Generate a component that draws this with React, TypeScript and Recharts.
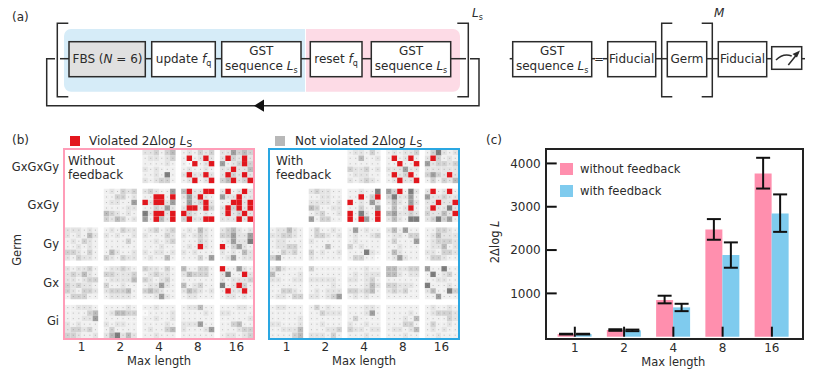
import React from "react";
import {
  Bar,
  BarChart,
  ErrorBar,
  Legend,
  ReferenceArea,
  Scatter,
  ScatterChart,
  XAxis,
  YAxis,
} from "recharts";

const FONT = "'DejaVu Sans', sans-serif";
const INK = "#2b2b2b";
const PINK = "#ff8fae";
const BLUE = "#7fcbee";

const maxLengths = ["1", "2", "4", "8", "16"];
const germs = ["GxGxGy", "GxGy", "Gy", "Gx", "Gi"];

// panel (c)
const withoutFeedback = [60, 154, 846, 2477, 3770];
const withFeedback = [60, 146, 677, 1885, 2846];
const withoutError = [[8, 8], [18, 18], [76, 100], [239, 238], [350, 360]];
const withError = [[8, 8], [18, 18], [87, 83], [293, 292], [426, 439]];
const logTicks = [1000, 2000, 3000, 4000];

// panel (b): one string per block, six rows of six cells.
// digits are grey levels, r is a violated cell, null is an empty block
const blocksWithout: (string | null)[][] = [
  [
    null,
    null,
    "223134 122123 111121 212111 112161 212331",
    "121323 1r12r2 10r12r 121121 2r22r2 12r12r",
    "225343 2r32r2 5123r3 22r224 2r32r2 34r23r",
  ],
  [
    null,
    "121323 113312 122115 111122 432121 324312",
    "232115 11rr1r r2rr25 113252 62rr2r 51r42r",
    "4r22rr 252r21 1523r2 2rr2r3 r32121 3r22rr",
    "2r12r2 522r22 11rr2r 2r3r2r 2r23r2 222r2r",
  ],
  [
    "222121 212142 121321 112121 332131 213221",
    "121322 212112 111131 111111 142112 321322",
    "123123 211132 112123 111211 212212 121141",
    "121421 212321 111321 121r21 212111 111315",
    "234212 335225 125226 r13521 212142 125122",
  ],
  [
    "212231 232421 221233 323221 321332 133311",
    "122321 332223 122224 311211 233341 122221",
    "322131 123221 321231 122521 343211 112521",
    "411331 243331 111111 412311 243212 122111",
    "r11521 2611r2 212223 612r31 1r22r1 122121",
  ],
  [
    "112221 111134 111225 212111 233231 332112",
    "111121 124433 111111 212211 131111 246242",
    "112111 011112 112112 111121 121134 112111",
    "122411 111121 111111 222511 211125 111111",
    "111221 221111 111112 113411 111233 122123",
  ],
];

const blocksWith: (string | null)[][] = [
  [
    null,
    null,
    "122131 114112 111111 322312 122211 212321",
    "121223 1r12r1 11r11r 222522 1r23r1 12r22r",
    "136212 2r3121 523323 222222 3532r2 131324",
  ],
  [
    null,
    "232211 112211 222212 431122 123112 513311",
    "112116 11r13r r12152 113115 r1621r r1r51r",
    "53r162 362251 242152 1412r1 452232 242166",
    "2r12r1 522322 22r22r 2r2262 32242r 236351",
  ],
  [
    "122421 223321 122111 122331 113231 351111",
    "131121 133212 211111 111411 312112 211111",
    "151211 121123 121111 312111 111621 133110",
    "241511 122133 131115 112111 142111 125211",
    "113321 124222 123332 122412 221332 133211",
  ],
  [
    "242111 411112 221122 111111 113321 122133",
    "311111 111111 222221 111121 121222 221235",
    "111211 121222 221231 111242 332341 121211",
    "442233 442122 111111 332221 232311 111111",
    "511611 161231 112211 611121 241163 115111",
  ],
  [
    "122111 111111 111112 221112 112224 111134",
    "131211 113222 111111 112111 111223 222131",
    "111221 111251 131111 211211 322122 111211",
    "111111 111121 111214 111331 122124 111211",
    "121121 123332 111132 131121 121211 112111",
  ],
];

const GREYS = ["#f9f9f9", "#f0f0f0", "#e4e4e4", "#d2d2d2", "#bcbcbc", "#9f9f9f", "#7e7e7e"];
const VIOLATED = "#e3161d";
const CELL = 5.53;

type HeatCell = { x: number; y: number; level: string };

function flattenBlocks(blocks: (string | null)[][]): HeatCell[] {
  const cells: HeatCell[] = [];
  blocks.forEach((row, rowIndex) =>
    row.forEach((block, colIndex) => {
      if (!block) return;
      block.split(" ").forEach((line, r) =>
        line.split("").forEach((level, c) => {
          cells.push({ x: colIndex * 7 + c, y: rowIndex * 7 + r, level });
        }),
      );
    }),
  );
  return cells;
}

function HeatSquare(props: any) {
  const { cx, cy, payload } = props;
  const fill = payload.level === "r" ? VIOLATED : GREYS[Number(payload.level)];
  return (
    <g>
      <rect x={cx - CELL / 2} y={cy - CELL / 2} width={CELL} height={CELL} fill={fill} />
      <rect x={cx - 0.5} y={cy - 0.5} width={1} height={1} fill="#555" opacity={0.35} />
    </g>
  );
}

const blockCentres = [2.5, 9.5, 16.5, 23.5, 30.5];
const HEAT_DOMAIN: [number, number] = [-0.68, 33.68];

function GermLabel() {
  return (
    <text transform="translate(21 125) rotate(-90)" textAnchor="middle" fontSize={11.5} fill={INK}>
      Germ
    </text>
  );
}

function HeatPanel({
  blocks,
  border,
  showGerms,
  width,
  marginLeft,
}: {
  blocks: (string | null)[][];
  border: string;
  showGerms: boolean;
  width: number;
  marginLeft: number;
}) {
  return (
    <ScatterChart
      width={width}
      height={247}
      margin={{ top: 24, right: 6, bottom: 0, left: marginLeft }}
    >
      <XAxis
        type="number"
        dataKey="x"
        domain={HEAT_DOMAIN}
        ticks={blockCentres}
        tickFormatter={(_: number, i: number) => maxLengths[i]}
        allowDataOverflow
        axisLine={false}
        tickLine={false}
        height={33}
        tick={{ fontSize: 12, fill: INK }}
        tickSize={0}
        tickMargin={3}
        interval={0}
        label={{ value: "Max length", position: "insideBottom", offset: 7, fontSize: 11.5, fill: INK }}
      />
      <YAxis
        type="number"
        dataKey="y"
        reversed
        domain={HEAT_DOMAIN}
        ticks={blockCentres}
        tickFormatter={(_: number, i: number) => germs[i]}
        allowDataOverflow
        axisLine={false}
        tickLine={false}
        hide={!showGerms}
        width={60}
        tick={{ fontSize: 11.5, fill: INK }}
        tickSize={0}
        tickMargin={5}
        interval={0}
        label={showGerms ? <GermLabel /> : undefined}
      />
      <Scatter data={flattenBlocks(blocks)} shape={HeatSquare} isAnimationActive={false} />
      <ReferenceArea
        x1={HEAT_DOMAIN[0]}
        x2={HEAT_DOMAIN[1]}
        y1={HEAT_DOMAIN[0]}
        y2={HEAT_DOMAIN[1]}
        fill="none"
        stroke={border}
        strokeWidth={2}
        ifOverflow="visible"
      />
    </ScatterChart>
  );
}

const logData = maxLengths.map((length, i) => ({
  length,
  without: withoutFeedback[i],
  with: withFeedback[i],
  withoutError: withoutError[i],
  withError: withError[i],
}));

function FeedbackLegend() {
  const rows = [
    { name: "without feedback", color: PINK },
    { name: "with feedback", color: BLUE },
  ];
  return (
    <div>
      {rows.map((row) => (
        <div key={row.name} style={{ display: "flex", alignItems: "center", height: 22, fontSize: 11.6, color: INK }}>
          <span style={{ width: 13, height: 12, background: row.color, marginRight: 7 }} />
          {row.name}
        </div>
      ))}
    </div>
  );
}

function LogLabel({ viewBox }: any) {
  const cy = viewBox.y + viewBox.height / 2;
  return (
    <text transform={`translate(29 ${cy - 1}) rotate(-90)`} textAnchor="middle" fontSize={11.5} fill={INK}>
      2Δlog <tspan fontStyle="italic">L</tspan>
    </text>
  );
}

function LogBars() {
  return (
    <BarChart
      width={345}
      height={247}
      data={logData}
      barCategoryGap="15%"
      barGap={0}
      margin={{ top: 24, right: 14, bottom: 5.3, left: 20 }}
    >
      <Bar dataKey="without" fill={PINK} isAnimationActive={false}>
        <ErrorBar dataKey="withoutError" width={7} strokeWidth={2} stroke="#111" direction="y" isAnimationActive={false} />
      </Bar>
      <Bar dataKey="with" fill={BLUE} isAnimationActive={false}>
        <ErrorBar dataKey="withError" width={7} strokeWidth={2} stroke="#111" direction="y" isAnimationActive={false} />
      </Bar>
      <XAxis
        dataKey="length"
        padding={{ left: 4.5, right: 4.5 }}
        height={30}
        tickSize={-10}
        tickMargin={17}
        tickLine={{ stroke: "#111", strokeWidth: 2 }}
        axisLine={false}
        tick={{ fontSize: 12, fill: INK }}
        interval={0}
        label={{ value: "Max length", position: "insideBottom", offset: 1, fontSize: 11.5, fill: INK }}
      />
      <YAxis
        domain={[0, 4333]}
        ticks={logTicks}
        width={55.7}
        tickSize={-11}
        tickMargin={16}
        tickLine={{ stroke: "#111", strokeWidth: 2 }}
        axisLine={false}
        tick={{ fontSize: 12, fill: INK }}
        label={<LogLabel />}
      />
      <Legend
        layout="vertical"
        align="center"
        verticalAlign="middle"
        wrapperStyle={{ left: 90, top: 33, width: 150 }}
        content={<FeedbackLegend />}
      />
    </BarChart>
  );
}

function Ls({ size = 8, letter = "s" }: { size?: number; letter?: string }) {
  return (
    <>
      <tspan fontStyle="italic">L</tspan>
      <tspan dy={2.5} fontSize={size}>{letter}</tspan>
    </>
  );
}

function Fq() {
  return (
    <>
      <tspan fontStyle="italic">f</tspan>
      <tspan dy={2.5} fontSize={8}>q</tspan>
    </>
  );
}

function Box({ x1, x2, y1 = 41.7, y2 = 76.7, fill = "#fff" }: any) {
  return <rect x={x1} y={y1} width={x2 - x1} height={y2 - y1} fill={fill} stroke={INK} strokeWidth={1.5} />;
}

function Wires({ segments }: { segments: number[][] }) {
  return (
    <>
      {segments.map(([a, b]) => (
        <line key={a} x1={a} x2={b} y1={58.7} y2={58.7} stroke={INK} strokeWidth={1.5} />
      ))}
    </>
  );
}

function BoxLabel({ x, y = 63, children }: any) {
  return (
    <text x={x} y={y} textAnchor="middle" fontSize={12} fill={INK}>
      {children}
    </text>
  );
}

function GstLabel({ x }: { x: number }) {
  return (
    <>
      <BoxLabel x={x} y={55}>GST</BoxLabel>
      <BoxLabel x={x} y={70}>sequence <Ls /></BoxLabel>
    </>
  );
}

function Bracket({ x, end, y1 = 23.3, y2 = 96.7 }: any) {
  return <path d={`M${end} ${y1}H${x}V${y2}H${end}`} fill="none" stroke={INK} strokeWidth={1.5} />;
}

function Schematic() {
  return (
    <svg width={815} height={372} style={{ position: "absolute", left: 0, top: 0 }} fontFamily={FONT}>
      <text x={12} y={21} fontSize={12} fill={INK}>(a)</text>
      <text x={12} y={144} fontSize={12} fill={INK}>(b)</text>
      <text x={486} y={144} fontSize={12} fill={INK}>(c)</text>

      <path d="M71 29H305V91.7H71a7 7 0 0 1-7-7V36a7 7 0 0 1 7-7Z" fill="#d6ecf8" />
      <path d="M306 29H453a7 7 0 0 1 7 7V84.7a7 7 0 0 1-7 7H306Z" fill="#fddbe6" />

      <Bracket x={57.3} end={68.3} />
      <Bracket x={468.3} end={457.3} />
      <path d="M55 58.7H46.7V105.7H479V58.7H470" fill="none" stroke={INK} strokeWidth={1.5} />
      <path d="M254 105.7L264 99.5V111.7Z" fill="#111" />
      <Wires segments={[[60, 69], [145.3, 151.7], [215.3, 221.7], [301, 310.3], [362, 371.3], [450.7, 466]]} />

      <Box x1={69} x2={145.3} fill="#e0e0e0" />
      <Box x1={151.7} x2={215.3} />
      <Box x1={221.7} x2={301} />
      <Box x1={310.3} x2={362} />
      <Box x1={371.3} x2={450.7} />
      <BoxLabel x={107.5}>FBS (<tspan fontStyle="italic">N</tspan> = 6)</BoxLabel>
      <BoxLabel x={183.5}>update <Fq /></BoxLabel>
      <GstLabel x={261.3} />
      <BoxLabel x={336}>reset <Fq /></BoxLabel>
      <GstLabel x={411} />
      <text x={472} y={17} fontSize={12} fill={INK}><Ls /></text>

      <Wires segments={[[509.7, 512.7], [591.7, 595], [603, 607.7], [655.7, 667.3], [706.7, 718.3], [766.7, 771.7], [801.7, 805]]} />
      <Box x1={512.7} x2={591.7} />
      <GstLabel x={552.2} />
      <text x={599} y={63} textAnchor="middle" fontSize={12} fill={INK}>=</text>
      <Box x1={607.7} x2={655.7} />
      <BoxLabel x={631.7}>Fiducial</BoxLabel>
      <Bracket x={661.7} end={672.3} />
      <Bracket x={712.3} end={701.7} />
      <Box x1={667.3} x2={706.7} />
      <BoxLabel x={687}>Germ</BoxLabel>
      <Box x1={718.3} x2={766.7} />
      <BoxLabel x={742.5}>Fiducial</BoxLabel>
      <text x={714} y={17} fontSize={12} fontStyle="italic" fill={INK}>M</text>
      <Box x1={771.7} x2={801.7} y1={46.7} y2={69.3} />
      <path d="M776 60Q783 53 791.7 56" fill="none" stroke={INK} strokeWidth={1.5} />
      <path d="M788.3 65L798 53" fill="none" stroke={INK} strokeWidth={1.5} />
      <path d="M800 50.5L792.5 54L797 57.5Z" fill={INK} />

      <rect x={70} y={136} width={10} height={10} fill={VIOLATED} />
      <text x={89} y={144.5} fontSize={12} fill={INK}>
        Violated 2Δlog <Ls size={9} letter="S" />
      </text>
      <rect x={275} y={136} width={10} height={10} fill="#b8b8b8" />
      <text x={295} y={144.5} fontSize={12} fill={INK}>
        Not violated 2Δlog <Ls size={9} letter="S" />
      </text>
    </svg>
  );
}

function PanelNote({ x, lines }: { x: number; lines: string[] }) {
  return (
    <svg width={110} height={45} style={{ position: "absolute", left: x, top: 150 }} fontFamily={FONT}>
      {lines.map((line, i) => (
        <text key={line} x={0} y={14.5 + i * 14.5} fontSize={12} fill={INK}>
          {line}
        </text>
      ))}
    </svg>
  );
}

export default function App() {
  return (
    <div
      style={{
        position: "fixed",
        left: 0,
        top: 0,
        width: 815,
        height: 372,
        background: "#fff",
        overflow: "hidden",
        fontFamily: FONT,
      }}
    >
      <Schematic />
      <div style={{ position: "absolute", left: 0, top: 125 }}>
        <HeatPanel blocks={blocksWithout} border="#ff9db8" showGerms width={260} marginLeft={4} />
      </div>
      <div style={{ position: "absolute", left: 265, top: 125 }}>
        <HeatPanel blocks={blocksWith} border="#2aa7e2" showGerms={false} width={200} marginLeft={4} />
      </div>
      <PanelNote x={68} lines={["Without", "feedback"]} />
      <PanelNote x={276} lines={["With", "feedback"]} />
      <div style={{ position: "absolute", left: 470, top: 125 }}>
        <LogBars />
      </div>
      <div
        style={{
          position: "absolute",
          left: 544.7,
          top: 148,
          width: 255.3,
          height: 187.7,
          border: "2px solid #222",
          pointerEvents: "none",
        }}
      />
    </div>
  );
}
